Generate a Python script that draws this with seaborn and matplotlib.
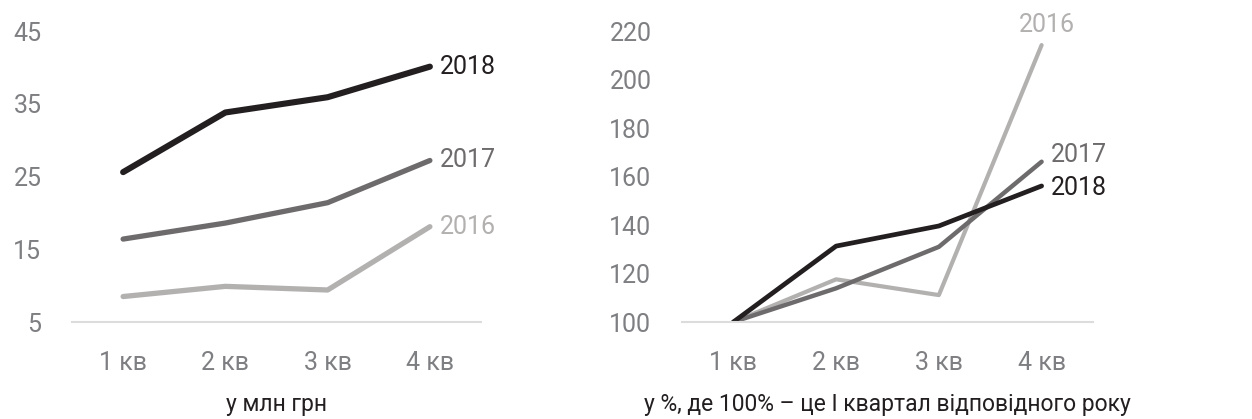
import pandas as pd
import seaborn as sns
import matplotlib
from matplotlib import pyplot as plt

matplotlib.use('Agg')

# дані з графіка
quarters = ['1 кв', '2 кв', '3 кв', '4 кв']
years = ['2016', '2017', '2018']

# у млн грн
mln_2016 = [8.5, 9.9, 9.4, 18.1]
mln_2017 = [16.4, 18.6, 21.4, 27.2]
mln_2018 = [25.6, 33.8, 35.9, 40.1]

# у % до I кварталу
pct_2016 = [100, 117.6, 111.1, 214.2]
pct_2017 = [100, 113.9, 131.0, 166.1]
pct_2018 = [100, 131.3, 139.6, 156.1]

colors = {'2016': '#b3b0b0', '2017': '#6e6b6c', '2018': '#231f20'}
tick_color = '#7e7f82'

sns.set_theme(style='white')
plt.rcParams['font.family'] = ['Roboto', 'DejaVu Sans']


def make_df(d2016, d2017, d2018):
    rows = []
    for year, vals in zip(years, [d2016, d2017, d2018]):
        for q, v in zip(quarters, vals):
            rows.append({'quarter': q, 'value': v, 'year': year})
    return pd.DataFrame(rows)


df_mln = make_df(mln_2016, mln_2017, mln_2018)
df_pct = make_df(pct_2016, pct_2017, pct_2018)

fig = plt.figure(figsize=(12.52, 4.19), dpi=100)
ax1 = fig.add_axes([0.0575, 0.2315, 0.3267, 0.6945])
ax2 = fig.add_axes([0.5447, 0.2315, 0.3283, 0.6945])


def style_axis(ax, df, ylim, yticks, xlabel, lw):
    for year in years:
        sub = df[df['year'] == year]
        sns.lineplot(data=sub, x='quarter', y='value', color=colors[year],
                     linewidth=lw[year], ax=ax, sort=False, legend=False)
    ax.set_xlim(-0.5, 3.5)
    ax.set_ylim(*ylim)
    ax.set_yticks(yticks)
    for s in ['top', 'right', 'left']:
        ax.spines[s].set_visible(False)
    ax.spines['bottom'].set_color('#dcdcdc')
    ax.spines['bottom'].set_linewidth(1.5)
    ax.tick_params(axis='both', length=0, labelsize=18, colors=tick_color)
    ax.tick_params(axis='x', pad=21)
    ax.tick_params(axis='y', pad=22)
    ax.set_ylabel('')
    ax.set_xlabel(xlabel, fontsize=16.5, color='#231f20', labelpad=13)


style_axis(ax1, df_mln, (5, 45), [5, 15, 25, 35, 45], 'у млн грн',
           {'2016': 3.8, '2017': 3.8, '2018': 4.4})
style_axis(ax2, df_pct, (100, 220), [100, 120, 140, 160, 180, 200, 220],
           'у %, де 100% – це I квартал відповідного року',
           {'2016': 3.0, '2017': 3.2, '2018': 3.4})

# підписи років на лівій панелі
for year, vals in zip(years, [mln_2016, mln_2017, mln_2018]):
    ax1.text(3.1, vals[-1], year, color=colors[year], fontsize=18,
             va='center', ha='left', clip_on=False)

# підписи років на правій панелі
ax2.text(3.05, 222.5, '2016', color=colors['2016'], fontsize=18,
         va='center', ha='center', clip_on=False)
ax2.text(3.09, 168.9, '2017', color=colors['2017'], fontsize=18,
         va='center', ha='left', clip_on=False)
ax2.text(3.09, 155.3, '2018', color=colors['2018'], fontsize=18,
         va='center', ha='left', clip_on=False)

plt.savefig('out.png', dpi=100)
